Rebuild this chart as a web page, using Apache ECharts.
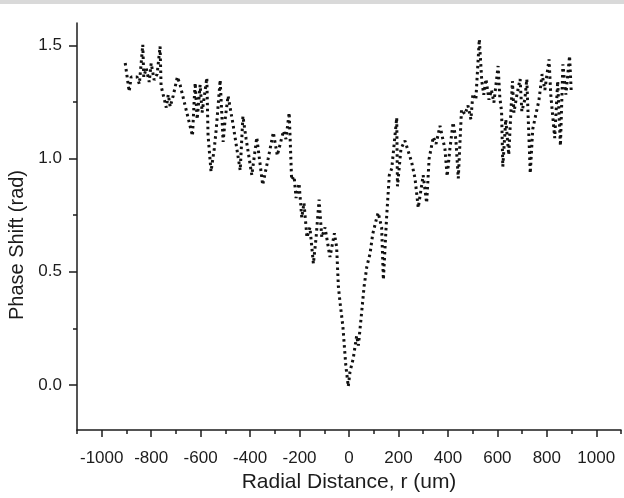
<!DOCTYPE html>
<html>
<head>
<meta charset="utf-8">
<script src="https://cdn.jsdelivr.net/npm/echarts@6/dist/echarts.min.js"></script>
<style>
  html, body { margin: 0; padding: 0; background: #ffffff; overflow: hidden; }
  #chart { width: 624px; height: 498px; }
</style>
</head>
<body>
<div id="chart"></div>
<script>
// Radial positions (um) of the traced profile vertices
const radius = [
  -905, -889, -881, -857, -848, -834, -830, -820, -808, -800, -788, -776, -764, -760,
  -739, -731, -723, -711, -694, -683, -633, -626, -622, -614, -602, -594, -575, -570,
  -558, -545, -537, -521, -509, -501, -489, -469, -440, -429, -416, -393, -373, -349,
  -327, -306, -290, -265, -255, -242, -238, -232, -222, -214, -202, -191, -182, -170,
  -158, -144, -133, -121, -110, -97, -77, -59, -50, -43, -36, -25, -19, -13, -3,
  4, 17, 31, 38, 51, 61, 72, 85, 96, 109, 118, 132, 139, 152, 163, 173, 193, 196,
  210, 226, 253, 267, 280, 300, 314, 324, 341, 352, 368, 388, 397, 408, 421, 432,
  442, 455, 469, 481, 493, 501, 513, 527, 537, 545, 554, 566, 576, 586, 603, 610,
  617, 622, 634, 646, 661, 667, 679, 692, 699, 711, 719, 733, 743, 754, 768, 781,
  792, 809, 816, 832, 844, 855, 865, 877, 892, 899
];

// Measured phase shift (rad) at each radial position
const phase = [
  1.423, 1.297, 1.361, 1.361, 1.330, 1.504, 1.361, 1.400, 1.339, 1.422, 1.348, 1.374, 1.496, 1.322,
  1.226, 1.283, 1.230, 1.278, 1.362, 1.326, 1.101, 1.261, 1.335, 1.174, 1.326, 1.204, 1.357, 1.104,
  0.943, 1.043, 1.130, 1.348, 1.074, 1.174, 1.278, 1.152, 0.949, 1.188, 1.087, 0.927, 1.094, 0.884,
  1.000, 1.116, 1.014, 1.123, 1.087, 1.203, 1.087, 0.906, 0.922, 0.826, 0.891, 0.739, 0.804, 0.652,
  0.696, 0.536, 0.652, 0.819, 0.652, 0.696, 0.565, 0.670, 0.609, 0.435, 0.362, 0.261, 0.174, 0.087, -0.007,
  0.058, 0.116, 0.217, 0.174, 0.319, 0.435, 0.522, 0.580, 0.667, 0.725, 0.761, 0.696, 0.465, 0.739, 0.927, 0.957, 1.181, 0.878,
  1.043, 1.080, 0.986, 0.913, 0.783, 0.927, 0.804, 1.000, 1.096, 1.065, 1.145, 1.043, 0.922, 1.043, 1.160, 1.087,
  0.913, 1.217, 1.196, 1.235, 1.174, 1.287, 1.261, 1.528, 1.343, 1.283, 1.352, 1.261, 1.304, 1.248, 1.410, 1.270,
  1.209, 0.965, 1.174, 1.017, 1.343, 1.204, 1.283, 1.352, 1.209, 1.261, 1.352, 0.935, 1.130, 1.187, 1.257, 1.374,
  1.304, 1.439, 1.283, 1.091, 1.343, 1.057, 1.417, 1.283, 1.454, 1.291
];

// Axis ticks and labels
const xLabelTicks = [-1000, -800, -600, -400, -200, 0, 200, 400, 600, 800, 1000];
const xMinorTicks = [-1100, -900, -700, -500, -300, -100, 100, 300, 500, 700, 900, 1100];
const yLabelTicks = [0, 0.5, 1.0, 1.5];
const yMinorTicks = [0.25, 0.75, 1.25];

const xRange = [-1100, 1100];
const yRange = [-0.2, 1.6];

const ink = '#1c1c1c';
const fontFamily = 'Liberation Sans, Arial, sans-serif';

const profile = radius.map((r, i) => [r, phase[i]]);

const chart = echarts.init(document.getElementById('chart'), null, {
  renderer: 'canvas', width: 624, height: 498
});

chart.setOption({
  animation: false,
  backgroundColor: '#ffffff',
  graphic: [
    { type: 'rect', left: 0, top: 0, shape: { width: 624, height: 4 }, style: { fill: '#d9d9d9' }, silent: true },
    {
      type: 'text', x: 17, y: 245, rotation: Math.PI / 2, silent: true,
      style: {
        text: 'Phase Shift (rad)', fill: ink, fontSize: 20, fontFamily: fontFamily,
        align: 'center', verticalAlign: 'middle'
      }
    }
  ],
  grid: { left: 77, right: 3, top: 23, bottom: 57 },
  xAxis: [
    {
      type: 'value',
      min: xRange[0], max: xRange[1],
      name: 'Radial Distance, r (um)',
      nameLocation: 'middle',
      nameGap: 40,
      nameTextStyle: { color: ink, fontSize: 21, fontFamily: fontFamily },
      axisLine: { onZero: false, lineStyle: { color: ink, width: 1.5 } },
      axisTick: { show: true, inside: false, length: 7, customValues: xLabelTicks, lineStyle: { color: ink, width: 1.5 } },
      axisLabel: {
        customValues: xLabelTicks, color: ink, fontSize: 17, fontFamily: fontFamily, margin: 20,
        formatter: v => String(v)
      },
      splitLine: { show: false }
    },
    {
      type: 'value',
      min: xRange[0], max: xRange[1],
      position: 'bottom',
      axisLine: { show: false, onZero: false },
      axisTick: { show: true, inside: false, length: 4, customValues: xMinorTicks, lineStyle: { color: ink, width: 1.5 } },
      axisLabel: { show: false },
      splitLine: { show: false }
    }
  ],
  yAxis: [
    {
      type: 'value',
      min: yRange[0], max: yRange[1],
      axisLine: { onZero: false, lineStyle: { color: ink, width: 1.5 } },
      axisTick: { show: true, inside: false, length: 8, customValues: yLabelTicks, lineStyle: { color: ink, width: 1.5 } },
      axisLabel: {
        customValues: yLabelTicks, color: ink, fontSize: 17, fontFamily: fontFamily, margin: 15,
        formatter: v => v.toFixed(1)
      },
      splitLine: { show: false }
    },
    {
      type: 'value',
      min: yRange[0], max: yRange[1],
      position: 'left',
      axisLine: { show: false, onZero: false },
      axisTick: { show: true, inside: false, length: 4, customValues: yMinorTicks, lineStyle: { color: ink, width: 1.5 } },
      axisLabel: { show: false },
      splitLine: { show: false }
    }
  ],
  series: [
    {
      type: 'line',
      data: profile,
      showSymbol: false,
      smooth: false,
      clip: false,
      lineStyle: { color: '#111111', width: 3, type: [2.5, 3.5], cap: 'butt', join: 'bevel' }
    }
  ]
});
</script>
</body>
</html>
